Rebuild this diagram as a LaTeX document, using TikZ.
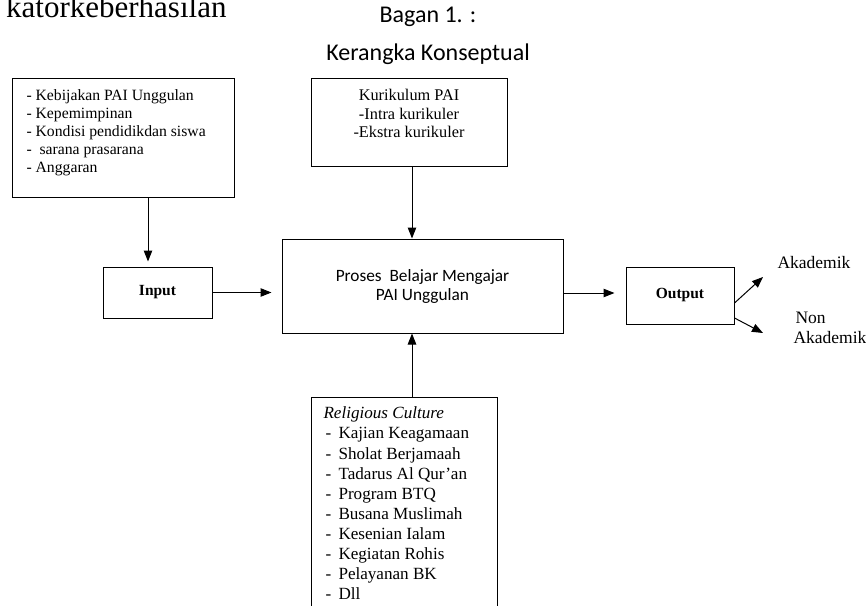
\documentclass[tikz,border=0pt]{standalone}
\usepackage{fontspec}
\setmainfont{Liberation Serif}
\newfontfamily\calibri{Carlito}
\usetikzlibrary{arrows.meta}

\begin{document}
\begin{tikzpicture}[x=1pt, y=-1pt, line width=1pt,
    kotak/.style={draw, inner sep=0pt},
    panah/.style={-{Triangle[length=11pt,width=8.5pt]}},
    teks/.style={inner sep=0pt, align=left}]
      \useasboundingbox (0,0) rectangle (866,605);
      % sisa baris dari halaman sebelumnya
      \node[anchor=base east, inner sep=0pt, font=\fontsize{31}{31}\selectfont] (sisa) at (227,17) {katorkeberhasilan};
      \node[anchor=base, inner sep=0pt, font=\calibri\fontsize{24}{24}\selectfont] (bagan) at (428,22.7) {Bagan 1. :};
      \node[anchor=base, inner sep=0pt, font=\calibri\fontsize{24}{24}\selectfont] (judul) at (428,60) {Kerangka Konseptual};

      % kotak-kotak
      \node[kotak, minimum width=222, minimum height=119] (kebijakan) at (123,137.5) {};
      \node[teks, anchor=north west, font=\fontsize{15.7}{18}\selectfont] (kebijakanTeks) at (26,89)
        {- Kebijakan PAI Unggulan\\- Kepemimpinan\\- Kondisi pendidikdan siswa\\- \ sarana prasarana\\- Anggaran};
      \node[kotak, minimum width=196, minimum height=88] (kurikulum) at (409,122) {};
      \node[teks, align=center, anchor=north, font=\fontsize{16.3}{18.3}\selectfont] (kurikulumTeks) at (409,89)
        {Kurikulum PAI\\-Intra kurikuler\\-Ekstra kurikuler};
      \node[kotak, minimum width=109, minimum height=51, font=\bfseries\fontsize{15.5}{18}\selectfont] (input) at (157.5,292.5) {Input};
      \node[kotak, minimum width=281, minimum height=94, align=center, font=\calibri\fontsize{17.3}{19}\selectfont] (proses) at (422.5,286)
        {Proses\ \ Belajar Mengajar\\PAI Unggulan};
      \node[kotak, minimum width=108, minimum height=57, font=\bfseries\fontsize{15.5}{18}\selectfont] (output) at (680,295.5) {Output};
      \node[kotak, minimum width=186, minimum height=228] (religi) at (404,511) {};
      \node[teks, anchor=north west, font=\fontsize{17.1}{20.1}\selectfont] (religiTeks) at (323,406.5)
        {\textit{Religious Culture}\\
         \hspace{2pt}\makebox[13pt][l]{-}Kajian Keagamaan\\
         \hspace{2pt}\makebox[13pt][l]{-}Sholat Berjamaah\\
         \hspace{2pt}\makebox[13pt][l]{-}Tadarus Al Qur’an\\
         \hspace{2pt}\makebox[13pt][l]{-}Program BTQ\\
         \hspace{2pt}\makebox[13pt][l]{-}Busana Muslimah\\
         \hspace{2pt}\makebox[13pt][l]{-}Kesenian Ialam\\
         \hspace{2pt}\makebox[13pt][l]{-}Kegiatan Rohis\\
         \hspace{2pt}\makebox[13pt][l]{-}Pelayanan BK\\
         \hspace{2pt}\makebox[13pt][l]{-}Dll};

      % hasil
      \node[anchor=west, inner sep=0pt, font=\fontsize{17.5}{20}\selectfont] (akademik) at (777,263) {Akademik};
      \node[teks, anchor=west, font=\fontsize{17.5}{20}\selectfont] (nonAkademik) at (793,328) {\hspace{2pt}Non\\Akademik};
      \coordinate (ujungAtas) at (763,277);
      \coordinate (ujungBawah) at (763,333);

      % panah
      \draw[panah] ([xshift=25]kebijakan.south) -- ([xshift=25,yshift=5]kebijakan.south |- input.north);
      \draw[panah] ([xshift=3]kurikulum.south) -- ([xshift=3]kurikulum.south |- proses.north);
      \draw[panah] ([xshift=8]religi.north) -- ([xshift=8]religi.north |- proses.south);
      \draw[panah, shorten >=10] (input.east) -- (input.east -| proses.west);
      \draw[panah, shorten >=11] ([yshift=2.5]proses.east |- output.west) -- ([yshift=2.5]output.west);
      \draw[panah] ([yshift=-7.5]output.east) -- (ujungAtas);
      \draw[panah] ([yshift=-22.5]output.east) -- (ujungBawah);

    \end{tikzpicture}
\end{document}
